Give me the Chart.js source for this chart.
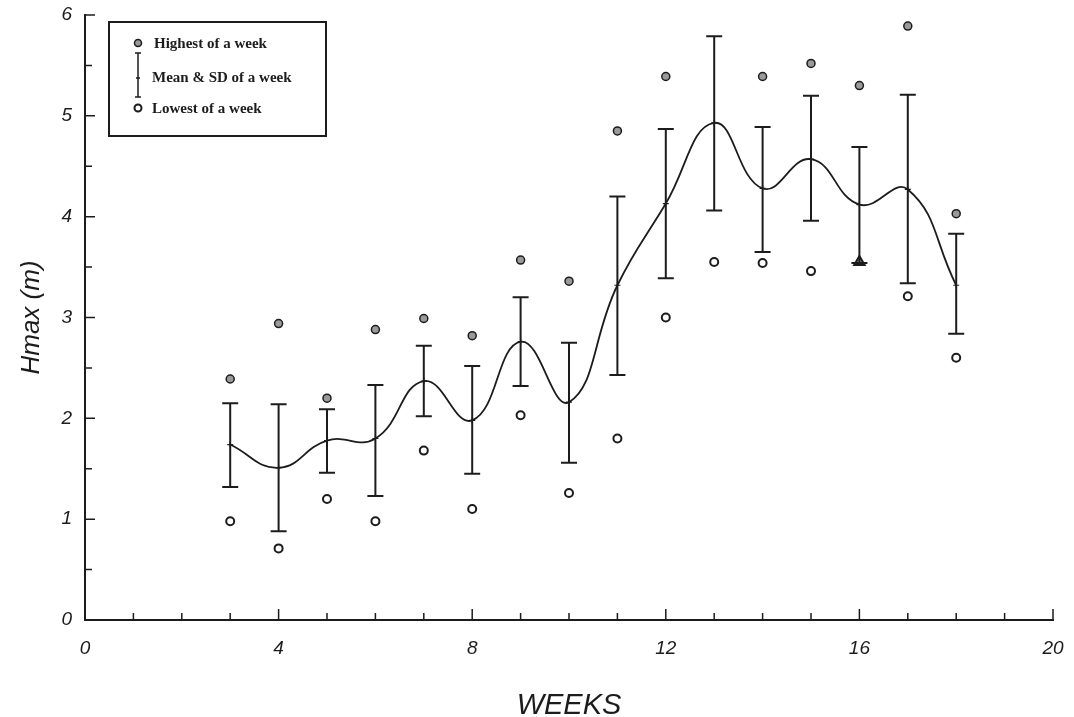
<!DOCTYPE html>
<html>
<head>
<meta charset="utf-8">
<script src="https://cdn.jsdelivr.net/npm/chart.js@4"></script>
<style>
  html, body { margin: 0; padding: 0; background: #fff; }
  #wrap { width: 1074px; height: 717px; }
</style>
</head>
<body>
<div id="wrap"><canvas id="hmax-chart" width="1074" height="717"></canvas></div>
<script>
// weekly wave height statistics
const weeks    = [3, 4, 5, 6, 7, 8, 9, 10, 11, 12, 13, 14, 15, 16, 17, 18]
const highest  = [2.39, 2.94, 2.20, 2.88, 2.99, 2.82, 3.57, 3.36, 4.85, 5.39, null, 5.39, 5.52, 5.30, 5.89, 4.03]
const meanH    = [1.74, 1.51, 1.78, 1.80, 2.37, 1.98, 2.76, 2.16, 3.32, 4.13, 4.93, 4.28, 4.57, 4.12, 4.27, 3.32]
const sdUpper  = [2.15, 2.14, 2.09, 2.33, 2.72, 2.52, 3.20, 2.75, 4.20, 4.87, 5.79, 4.89, 5.20, 4.69, 5.21, 3.83]
const sdLower  = [1.32, 0.88, 1.46, 1.23, 2.02, 1.45, 2.32, 1.56, 2.43, 3.39, 4.06, 3.65, 3.96, 3.54, 3.34, 2.84]
const lowest   = [0.98, 0.71, 1.20, 0.98, 1.68, 1.10, 2.03, 1.26, 1.80, 3.00, 3.55, 3.54, 3.46, 3.55, 3.21, 2.60]

const xTicks = [0, 4, 8, 12, 16, 20]
const yTicks = [0, 1, 2, 3, 4, 5, 6]

const ink = '#1c1c1c'
const pts = arr => weeks.map((w, i) => ({ x: w, y: arr[i] })).filter(p => p.y !== null)

// error bars for mean +/- SD
const errorBars = {
  id: 'errorBars',
  afterDatasetsDraw(chart) {
    const { ctx, scales: { x, y } } = chart
    ctx.save()
    ctx.strokeStyle = ink
    ctx.lineWidth = 2
    weeks.forEach((w, i) => {
      const px = x.getPixelForValue(w)
      const top = y.getPixelForValue(sdUpper[i])
      const bot = y.getPixelForValue(sdLower[i])
      ctx.beginPath()
      ctx.moveTo(px, top); ctx.lineTo(px, bot)
      ctx.moveTo(px - 8, top); ctx.lineTo(px + 8, top)
      ctx.moveTo(px - 8, bot); ctx.lineTo(px + 8, bot)
      ctx.stroke()
    })
    ctx.restore()
  }
}

// inward tick marks like the original plot, plus the boxed legend
const innerTicks = {
  id: 'innerTicks',
  afterDraw(chart) {
    const { ctx, scales: { x, y }, chartArea: a } = chart
    ctx.save()
    ctx.strokeStyle = ink
    ctx.lineWidth = 1.5
    ctx.beginPath()
    for (let v = 0; v <= 6; v += 0.5) {
      const py = y.getPixelForValue(v)
      const len = v % 1 === 0 ? 10 : 7
      ctx.moveTo(a.left, py); ctx.lineTo(a.left + len, py)
    }
    for (let w = 1; w <= 20; w++) {
      const px = x.getPixelForValue(w)
      const len = w % 4 === 0 ? 11 : 7
      ctx.moveTo(px, a.bottom); ctx.lineTo(px, a.bottom - len)
    }
    ctx.stroke()

    // legend box
    const lx = a.left + 24, ly = a.top + 7, lw = 217, lh = 114
    ctx.lineWidth = 2
    ctx.strokeRect(lx, ly, lw, lh)
    ctx.font = 'bold 15px "Liberation Serif", "DejaVu Serif", serif'
    ctx.fillStyle = ink
    ctx.textBaseline = 'middle'
    const ix = lx + 29
    // highest
    ctx.beginPath(); ctx.arc(ix, ly + 21, 3.5, 0, Math.PI * 2)
    ctx.fillStyle = '#9a9a9a'; ctx.fill(); ctx.lineWidth = 1.5; ctx.stroke()
    // mean & sd
    ctx.beginPath()
    ctx.moveTo(ix, ly + 31); ctx.lineTo(ix, ly + 75)
    ctx.moveTo(ix - 3, ly + 31); ctx.lineTo(ix + 3, ly + 31)
    ctx.moveTo(ix - 3, ly + 75); ctx.lineTo(ix + 3, ly + 75)
    ctx.moveTo(ix - 2, ly + 56); ctx.lineTo(ix + 2, ly + 56)
    ctx.stroke()
    // lowest
    ctx.beginPath(); ctx.arc(ix, ly + 86, 3.5, 0, Math.PI * 2)
    ctx.fillStyle = '#fff'; ctx.fill(); ctx.lineWidth = 2; ctx.stroke()
    ctx.fillStyle = ink
    ctx.fillText('Highest of a week', ix + 16, ly + 22)
    ctx.fillText('Mean & SD of a week', ix + 14, ly + 56)
    ctx.fillText('Lowest of a week', ix + 14, ly + 87)
    ctx.restore()
  }
}

const tickFont = { family: '"Liberation Sans", Arial, sans-serif', size: 19, style: 'italic' }
const yTitleFont = { family: '"Liberation Sans", Arial, sans-serif', size: 26, style: 'italic' }
const xTitleFont = { family: '"Liberation Sans", Arial, sans-serif', size: 29, style: 'italic', lineHeight: 0.75 }

new Chart(document.getElementById('hmax-chart'), {
  type: 'scatter',
  data: {
    datasets: [
      {
        label: 'Mean',
        data: pts(meanH),
        showLine: true,
        tension: 0.45,
        borderColor: ink,
        borderWidth: 1.8,
        pointStyle: 'cross',
        pointRadius: 3,
        pointBorderWidth: 1.2,
        pointBorderColor: ink,
        order: 2
      },
      {
        label: 'Highest of a week',
        data: pts(highest),
        pointRadius: 4,
        pointBackgroundColor: '#9a9a9a',
        pointBorderColor: ink,
        pointBorderWidth: 1.5,
        order: 1
      },
      {
        label: 'Lowest of a week',
        data: pts(lowest),
        pointStyle: weeks.map(w => w === 16 ? 'triangle' : 'circle'),
        pointRadius: weeks.map(w => w === 16 ? 6 : 4),
        pointBackgroundColor: weeks.map(w => w === 16 ? '#9a9a9a' : '#ffffff'),
        pointBorderColor: ink,
        pointBorderWidth: 2,
        order: 1
      }
    ]
  },
  options: {
    responsive: false,
    animation: false,
    layout: { padding: { top: 15, right: 21, left: 0, bottom: 0 } },
    plugins: {
      legend: { display: false },
      tooltip: { enabled: false }
    },
    scales: {
      x: {
        type: 'linear',
        min: 0,
        max: 20,
        afterFit: s => { s.height = 97; s.paddingLeft = 0; s.paddingRight = 0 },
        afterBuildTicks: s => { s.ticks = xTicks.map(v => ({ value: v })) },
        grid: { display: false, drawTicks: false },
        border: { display: true, color: ink, width: 2 },
        ticks: { font: tickFont, color: ink, padding: 17 },
        title: { display: true, text: 'WEEKS', font: xTitleFont, color: ink, padding: { top: 0, bottom: 0 } }
      },
      y: {
        min: 0,
        max: 6,
        afterFit: s => { s.width = 85; s.paddingTop = 0; s.paddingBottom = 0 },
        afterBuildTicks: s => { s.ticks = yTicks.map(v => ({ value: v })) },
        grid: { display: false, drawTicks: false },
        border: { display: true, color: ink, width: 2 },
        ticks: { font: tickFont, color: ink, padding: 13 },
        title: { display: true, text: 'Hmax (m)', font: yTitleFont, color: ink, padding: { top: 16, bottom: 0 } }
      }
    }
  },
  plugins: [errorBars, innerTicks]
})
</script>
</body>
</html>
